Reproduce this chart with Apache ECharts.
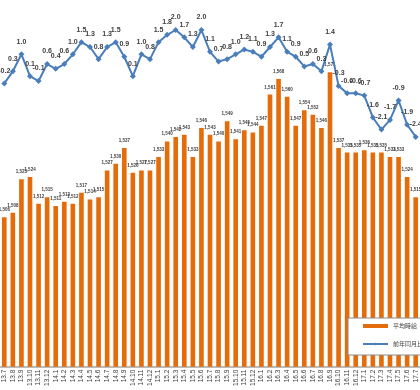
<!DOCTYPE html>
<html><head><meta charset="utf-8">
<script src="https://cdn.jsdelivr.net/npm/echarts@6/dist/echarts.min.js"></script>
<style>html,body{margin:0;padding:0;background:#fff}#c{width:420px;height:390px}</style>
</head><body><div id="c"></div>
<script>
const categories = ['13.7','13.8','13.9','13.10','13.11','13.12',
  '14.1','14.2','14.3','14.4','14.5','14.6','14.7','14.8','14.9','14.10','14.11','14.12',
  '15.1','15.2','15.3','15.4','15.5','15.6','15.7','15.8','15.9','15.10','15.11','15.12',
  '16.1','16.2','16.3','16.4','16.5','16.6','16.7','16.8','16.9','16.10','16.11','16.12',
  '17.1','17.2','17.3','17.4','17.5','17.6','17.7'];
const wages = [1506,1508,1523,1524,1512,1515,
  1511,1513,1512,1517,1514,1515,1527,1530,1537,1526,1527,1527,
  1533,1540,1542,1543,1533,1546,1543,1540,1549,1541,1545,1544,
  1547,1561,1568,1560,1547,1554,1552,1546,1571,1537,1535,1535,
  1536,1535,1535,1533,1533,1524,1515];
const yoy = [-0.2,0.3,1.0,0.1,-0.1,0.6,
  0.4,0.6,1.0,1.5,1.3,0.8,1.3,1.5,0.9,0.1,1.0,0.8,
  1.5,1.8,2.0,1.7,1.3,2.0,1.1,0.7,0.8,1.0,1.2,1.1,
  0.9,1.3,1.7,1.1,0.9,0.5,0.6,0.3,1.4,-0.3,-0.6,-0.6,
  -0.7,-1.6,-2.1,-1.7,-0.9,-1.9,-2.4];
const seriesNames = ['平均時給','前年同月比'];

const barColor = '#E46C0A';
const lineColor = '#4A7EBB';
const textColor = '#404040';

const chart = echarts.init(document.getElementById('c'), null, {renderer: 'canvas'});
chart.setOption({
  animation: false,
  backgroundColor: '#ffffff',
  textStyle: {fontFamily: '"Liberation Sans", "Noto Sans CJK JP", sans-serif'},
  grid: {left: -5.2, width: 425.3, top: 0, height: 366.7},
  xAxis: {
    type: 'category',
    data: categories,
    axisLine: {onZero: false, lineStyle: {color: '#a6a6a6', width: 1.5}},
    axisTick: {show: false},
    axisLabel: {rotate: 90, interval: 0, fontSize: 6.5, color: textColor, margin: 3}
  },
  yAxis: [
    {type: 'value', min: 1439, max: 1603.4, show: false, splitLine: {show: false}},
    {type: 'value', min: -11.86, max: 3.235, show: false, splitLine: {show: false}}
  ],
  legend: {
    left: 348, top: 318, orient: 'vertical',
    backgroundColor: '#ffffff', borderColor: '#8c8c8c', borderWidth: 1, borderRadius: 0,
    padding: [5, 40, 8, 14],
    itemWidth: 25, itemHeight: 4, itemGap: 12,
    textStyle: {fontSize: 6, color: textColor},
    data: [{name: seriesNames[0], icon: 'rect'}, {name: seriesNames[1]}]
  },
  series: [
    {
      name: seriesNames[0], type: 'bar', yAxisIndex: 0, data: wages,
      barWidth: '54%',
      itemStyle: {color: barColor},
      label: {
        show: true, position: 'top', distance: 5,
        fontSize: 4.5, fontWeight: 'bold', color: textColor,
        formatter: p => p.value.toLocaleString('en-US')
      }
    },
    {
      name: seriesNames[1], type: 'line', yAxisIndex: 1, data: yoy,
      symbol: 'diamond', symbolSize: 6,
      lineStyle: {color: lineColor, width: 2},
      itemStyle: {color: lineColor},
      label: {
        show: true, position: 'top', distance: 6,
        fontSize: 7, fontWeight: 'bold', color: textColor,
        formatter: p => p.value.toFixed(1)
      },
      z: 3
    }
  ]
});
</script></body></html>
